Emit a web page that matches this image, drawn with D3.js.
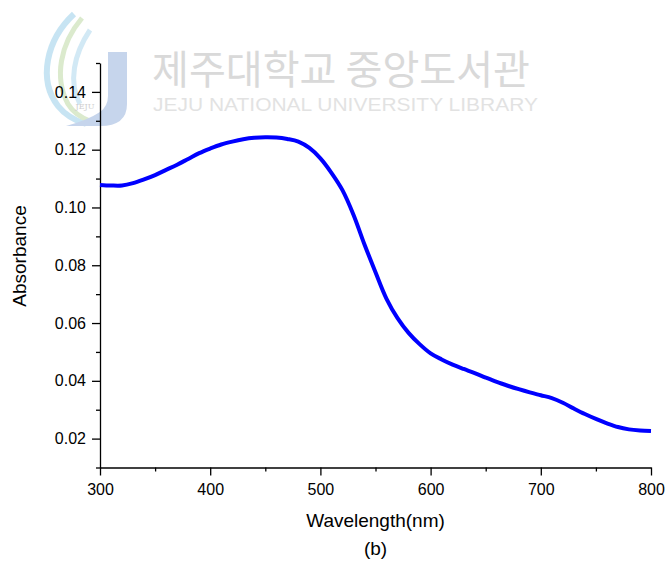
<html>
<head>
<script src="https://d3js.org/d3.v7.min.js"></script>
<style>
body { margin: 0; background: #fff; }
svg { display: block; font-family: "Liberation Sans", Arial, sans-serif; }
</style>
</head>
<body>
<div id="chart"></div>
<script>

var wavelength = [300, 310, 320, 330, 340, 350, 360, 370, 380, 390,
	400, 410, 420, 430, 440, 450, 460, 470, 480, 490,
	500, 510, 520, 530, 540, 550, 560, 570, 580, 590,
	600, 610, 620, 630, 640, 650, 660, 670, 680, 690,
	700, 710, 720, 730, 740, 750, 760, 770, 780, 790, 800];
var absorbance = [0.1078, 0.1076, 0.1076, 0.1084, 0.1097, 0.1112, 0.1130, 0.1148, 0.1168, 0.1188,
	0.1204, 0.1218, 0.1228, 0.1236, 0.1241, 0.1243, 0.1242, 0.1237, 0.1228, 0.1206,
	0.1170, 0.1120, 0.1060, 0.0975, 0.0872, 0.0776, 0.0684, 0.0617, 0.0566, 0.0527,
	0.0495, 0.0474, 0.0456, 0.0441, 0.0427, 0.0411, 0.0396, 0.0383, 0.0371, 0.0360,
	0.0350, 0.0340, 0.0324, 0.0304, 0.0285, 0.0268, 0.0253, 0.0240, 0.0232, 0.0228, 0.0226];

var xTicks = [300, 400, 500, 600, 700, 800];
var xMinorTicks = [350, 450, 550, 650, 750];
var yTicks = [0.02, 0.04, 0.06, 0.08, 0.10, 0.12, 0.14];
var yMinorTicks = [0.01, 0.03, 0.05, 0.07, 0.09, 0.11, 0.13, 0.15];

var width = 667, height = 565;
var plotLeft = 100, plotRight = 651, plotTop = 63, plotBottom = 467.5;

var svg = d3.select("#chart").append("svg")
.attr("width", width).attr("height", height);

/*** watermark ***/
var wm = svg.append("g").attr("opacity", 0.75);
wm.append("path").attr("d", "M74 14 C46 40, 38 80, 58 106 C66 116, 76 121, 86 124")
.style("fill", "none").style("stroke", "#b5dcef").style("stroke-width", 6);
wm.append("path").attr("d", "M82 18 C60 44, 54 78, 68 104 C74 114, 82 118, 90 121")
.style("fill", "none").style("stroke", "#cfe3bd").style("stroke-width", 5);
wm.append("path").attr("d", "M90 30 C74 54, 68 82, 80 104")
.style("fill", "none").style("stroke", "#c4e2f2").style("stroke-width", 5);
wm.append("path").attr("d", "M108 52 L127 52 L127 104 Q127 126 100 126 L66 126 Q88 120 100 112 Q108 106 108 96 Z")
.style("fill", "#b4c7e6");
wm.append("text").attr("x", 85).attr("y", 109).attr("text-anchor", "middle")
.style("font-family", "'DejaVu Serif', serif")
.style("font-size", "8px").style("fill", "#bdbdbd").text("JEJU");

wm.append("text").attr("x", 152).attr("y", 84)
.attr("textLength", 378).attr("lengthAdjust", "spacingAndGlyphs")
.style("font-family", "'Noto Sans CJK KR', sans-serif")
.style("font-size", "40px").style("fill", "#cdcdcd")
.text("제주대학교 중앙도서관");
wm.append("text").attr("x", 153).attr("y", 111)
.attr("textLength", 385).attr("lengthAdjust", "spacingAndGlyphs")
.style("font-size", "19px").style("fill", "#d9d9d9")
.text("JEJU NATIONAL UNIVERSITY  LIBRARY");

/*** scales and axes ***/
var xScale = d3.scaleLinear().domain([300, 800]).range([plotLeft, plotRight]);
var yScale = d3.scaleLinear().domain([0.01, 0.15]).range([plotBottom, plotTop]);

var xAxis = d3.axisBottom(xScale).tickValues(xTicks).tickSize(8).tickSizeOuter(0).tickPadding(8)
.tickFormat(d3.format("d"));
svg.append("g").attr("transform", "translate(0," + plotBottom + ")").call(xAxis);
svg.append("g").attr("transform", "translate(0," + plotBottom + ")")
.call(d3.axisBottom(xScale).tickValues(xMinorTicks).tickSize(4).tickSizeOuter(0).tickFormat(""))
.select(".domain").remove();

var yAxis = d3.axisLeft(yScale).tickValues(yTicks).tickSize(8).tickSizeOuter(0).tickPadding(6)
.tickFormat(d3.format(".2f"));
svg.append("g").attr("transform", "translate(" + plotLeft + ",0)").call(yAxis);
svg.append("g").attr("transform", "translate(" + plotLeft + ",0)")
.call(d3.axisLeft(yScale).tickValues(yMinorTicks).tickSize(4).tickSizeOuter(0).tickFormat(""))
.select(".domain").remove();

svg.selectAll(".domain, .tick line").style("stroke", "#000").style("stroke-width", 1.3);
svg.selectAll(".tick text").style("font-size", "16px").style("fill", "#000")
.style("font-family", "'Liberation Sans', Arial, sans-serif");

/*** curve ***/
var points = wavelength.map(function (w, i) { return [w, absorbance[i]]; });
var line = d3.line()
.x(function (d) { return xScale(d[0]); })
.y(function (d) { return yScale(d[1]); })
.curve(d3.curveCatmullRom);

svg.append("path").datum(points)
.attr("d", line)
.style("fill", "none").style("stroke", "#0000ff").style("stroke-width", 4)
.style("stroke-linejoin", "round");

/*** labels ***/
svg.append("text").attr("x", (plotLeft + plotRight) / 2).attr("y", 527)
.attr("text-anchor", "middle").style("font-size", "19px").text("Wavelength(nm)");
svg.append("text").attr("x", (plotLeft + plotRight) / 2).attr("y", 555)
.attr("text-anchor", "middle").style("font-size", "19px").text("(b)");
svg.append("text").attr("transform", "translate(26,256) rotate(-90)")
.attr("text-anchor", "middle").style("font-size", "19px").text("Absorbance");

</script>
</body>
</html>
